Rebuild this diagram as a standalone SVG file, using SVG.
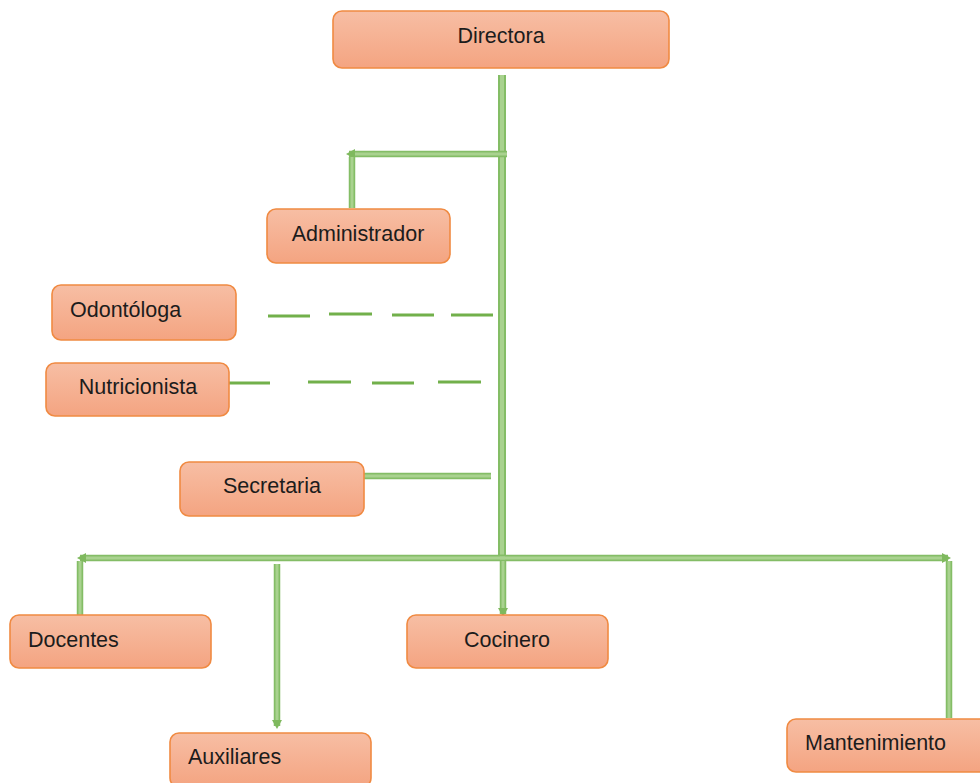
<svg xmlns="http://www.w3.org/2000/svg" xmlns:xlink="http://www.w3.org/1999/xlink" width="980" height="783" viewBox="0 0 980 783">
  <style>
    .box { fill: url(#boxGrad); stroke: #f08a42; stroke-width: 1.6; }
    .lbl { font-family: "Liberation Sans", Arial, sans-serif; font-size: 21.5px; fill: #1c1c1c; }
    .mid { text-anchor: middle; }
    .outer { fill: none; stroke: #84bd66; stroke-width: 6.5; }
    .inner { fill: none; stroke: #a9d28f; stroke-width: 3; }
    .outerW { fill: none; stroke: #84bd66; stroke-width: 8; }
    .innerW { fill: none; stroke: #a9d28f; stroke-width: 4; }
    .dash { fill: none; stroke: #72b04b; stroke-width: 3; }
  </style>
  <defs>
    <linearGradient id="boxGrad" x1="0" y1="0" x2="0" y2="1">
      <stop offset="0" stop-color="#f7bea4"/>
      <stop offset="1" stop-color="#f4a481"/>
    </linearGradient>
    <marker id="arr" markerUnits="userSpaceOnUse" markerWidth="14" markerHeight="14" viewBox="0 0 14 14" refX="10" refY="7" orient="auto">
      <path d="M4,2 L13,7 L4,12 Z" fill="#7fb95e"/>
    </marker>
    <path id="pTrunk" d="M502,75 V558"/>
    <path id="pAdmH" d="M507,154 H349"/>
    <path id="pAdmV" d="M352,208 V157"/>
    <path id="pSec" d="M364,476 H491"/>
    <path id="pBotL" d="M505,558 H80"/>
    <path id="pBotR" d="M500,558 H948"/>
    <path id="pDoc" d="M80,615 V561"/>
    <path id="pAux" d="M277,564 V726"/>
    <path id="pCoc" d="M503,561 V614"/>
    <path id="pMan" d="M949,718 V561"/>
  </defs>

  <g id="connectors">
    <use href="#pTrunk" class="outerW"/>
    <use href="#pTrunk" class="innerW"/>
    <use href="#pAdmH" class="outer"/>
    <use href="#pAdmH" class="inner" marker-end="url(#arr)"/>
    <use href="#pAdmV" class="outer"/>
    <use href="#pAdmV" class="inner"/>
    <use href="#pSec" class="outer"/>
    <use href="#pSec" class="inner"/>
    <path class="dash" d="M268,316 H310 M329,314 H372 M392,315 H434 M451,315 H493"/>
    <path class="dash" d="M229,383 H270 M308,382 H351 M372,383 H414 M438,382 H481"/>
    <use href="#pBotL" class="outer"/>
    <use href="#pBotR" class="outer"/>
    <use href="#pBotL" class="inner" marker-end="url(#arr)"/>
    <use href="#pBotR" class="inner" marker-end="url(#arr)"/>
    <use href="#pDoc" class="outer"/>
    <use href="#pDoc" class="inner"/>
    <use href="#pAux" class="outer"/>
    <use href="#pAux" class="inner" marker-end="url(#arr)"/>
    <use href="#pCoc" class="outer"/>
    <use href="#pCoc" class="inner" marker-end="url(#arr)"/>
    <use href="#pMan" class="outer"/>
    <use href="#pMan" class="inner"/>
  </g>

  <g id="directora">
    <rect class="box" x="333" y="11" width="336" height="57" rx="9"/>
    <text class="lbl mid" x="501" y="43">Directora</text>
  </g>
  <g id="administrador">
    <rect class="box" x="267" y="209" width="183" height="54" rx="9"/>
    <text class="lbl mid" x="358" y="241">Administrador</text>
  </g>
  <g id="odontologa">
    <rect class="box" x="52" y="285" width="184" height="55" rx="9"/>
    <text class="lbl" x="70" y="317">Odontóloga</text>
  </g>
  <g id="nutricionista">
    <rect class="box" x="46" y="363" width="183" height="53" rx="9"/>
    <text class="lbl mid" x="138" y="394">Nutricionista</text>
  </g>
  <g id="secretaria">
    <rect class="box" x="180" y="462" width="184" height="54" rx="9"/>
    <text class="lbl mid" x="272" y="493">Secretaria</text>
  </g>
  <g id="docentes">
    <rect class="box" x="10" y="615" width="201" height="53" rx="9"/>
    <text class="lbl" x="28" y="647">Docentes</text>
  </g>
  <g id="cocinero">
    <rect class="box" x="407" y="615" width="201" height="53" rx="9"/>
    <text class="lbl mid" x="507" y="647">Cocinero</text>
  </g>
  <g id="auxiliares">
    <rect class="box" x="170" y="733" width="201" height="54" rx="9"/>
    <text class="lbl" x="188" y="764">Auxiliares</text>
  </g>
  <g id="mantenimiento">
    <rect class="box" x="787" y="719" width="205" height="53" rx="9"/>
    <text class="lbl" x="805" y="750">Mantenimiento</text>
  </g>
</svg>
